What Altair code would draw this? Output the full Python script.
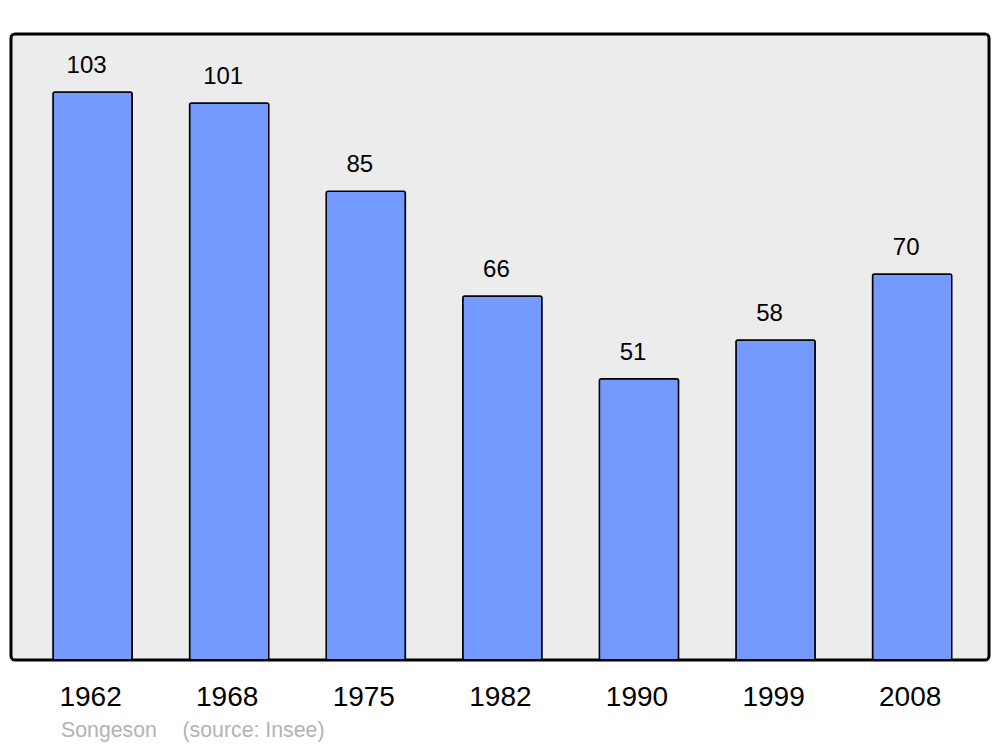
import altair as alt
import pandas as pd

years = ["1962", "1968", "1975", "1982", "1990", "1999", "2008"]
population = [103, 101, 85, 66, 51, 58, 70]
footer_texts = ["Songeson", "(source: Insee)"]

df = pd.DataFrame({"year": years, "pop": population})

x_scale = alt.Scale(paddingInner=0.42, paddingOuter=0.29, align=0.53)
y_scale = alt.Scale(domain=[0, 113.5], nice=False, zero=True)

base = alt.Chart(df).encode(
    x=alt.X("year:N", sort=years, scale=x_scale,
            axis=alt.Axis(title=None, labelAngle=0, domain=False, ticks=False, tickSize=0,
                          labelFontSize=28, labelFont="Liberation Sans", labelColor="black",
                          labelPadding=45, labelBaseline="alphabetic", labelOffset=-2)),
    y=alt.Y("pop:Q", scale=y_scale, axis=None),
)

bars = base.mark_bar(color="#7499ff", stroke="black", strokeWidth=1.5, cornerRadius=2)
labels = base.mark_text(baseline="alphabetic", dy=-19, dx=-6, fontSize=24,
                        font="Liberation Sans", color="black").encode(text="pop:Q")

foot_df = pd.DataFrame({"t": footer_texts, "xo": [50, 171.5]})
footer = alt.Chart(foot_df).mark_text(
    align="left", baseline="alphabetic", fontSize=21.3, font="Liberation Sans", color="#b3b3b3"
).encode(
    x=alt.X("xo:Q", scale=None),
    y=alt.value(703),
    text="t:N",
)

chart = alt.layer(bars, labels, footer).properties(
    width=978, height=626,
    padding={"left": 3, "top": 26, "right": 3, "bottom": 5},
).configure_view(
    fill="#ececec", stroke="black", strokeWidth=3, cornerRadius=4
)

chart.save("out.html", embed_options={"renderer": "svg", "actions": False})
